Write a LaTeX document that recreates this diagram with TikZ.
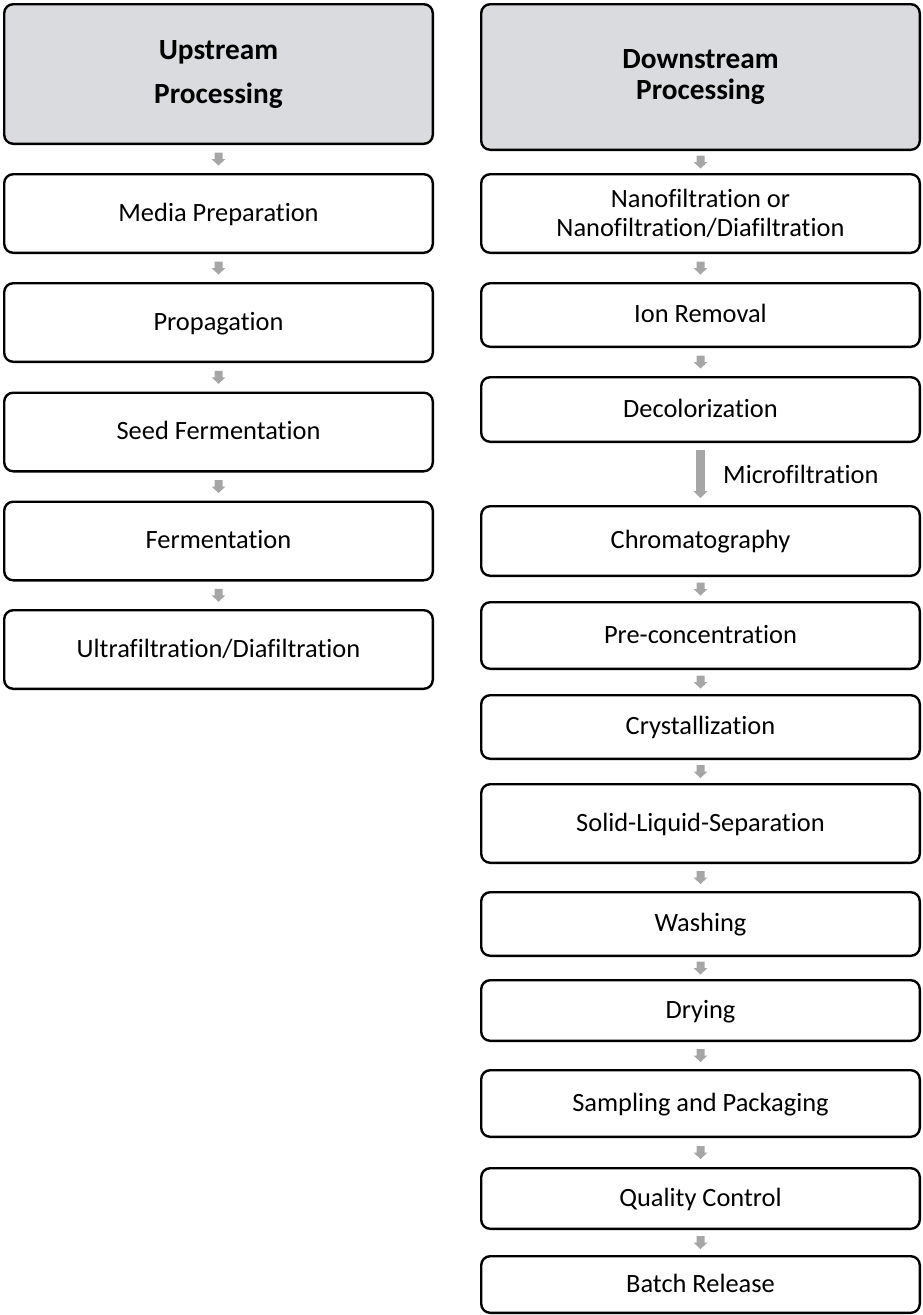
\documentclass[tikz,border=0pt]{standalone}
\usepackage{fontspec}
\setmainfont{Carlito}[Ligatures=NoCommon]
\usetikzlibrary{arrows.meta,decorations.markings}
\definecolor{hdrgray}{RGB}{217,219,222}
\definecolor{arrgray}{RGB}{166,166,166}
\begin{document}
\begin{tikzpicture}[x=1pt,y=-1pt,
  box/.style={draw=black, line width=2.4pt, rounded corners=9pt, fill=white,
    align=center, inner sep=0pt, text=black,
    font=\fontsize{26.4}{28.5}\selectfont},
  one/.style={text height=19.8pt, text depth=4pt},
  lbox/.style={box, minimum width=428.6pt},
  rbox/.style={box, minimum width=438.6pt},
  hdr/.style={fill=hdrgray},
  flow/.style={draw=none, postaction={decorate}, decoration={markings,
    mark=at position 0.5 with {\fill[arrgray] (-6.5pt,4pt) -- (0pt,4pt) -- (0pt,7pt) -- (6.5pt,0pt) -- (0pt,-7pt) -- (0pt,-4pt) -- (-6.5pt,-4pt) -- cycle;}}},
  bigflow/.style={draw=arrgray, line width=9pt, -{Triangle[width=14pt,length=7pt]},
    shorten <=7pt, shorten >=7pt},
  lbl/.style={inner sep=0pt, text=black, font=\fontsize{26.4}{28.5}\selectfont}
]
\useasboundingbox (0,0) rectangle (922,1315);

% Left column
\node[lbox, hdr, minimum height=139.6pt, font=\bfseries\fontsize{29.3}{44}\selectfont] (up) at (218.5,74) {Upstream\\Processing};
\node[lbox, one, minimum height=78.6pt] (media) at (218.5,213.5) {Media Preparation};
\node[lbox, one, minimum height=78.6pt] (prop) at (218.5,322.5) {Propagation};
\node[lbox, one, minimum height=78.6pt] (seed) at (218.5,432) {Seed Fermentation};
\node[lbox, one, minimum height=78.6pt] (ferm) at (218.5,541) {Fermentation};
\node[lbox, one, minimum height=78.6pt] (ultra) at (218.5,649.5) {Ultrafiltration/Diafiltration};

\path[flow] (up) -- (media);
\path[flow] (media) -- (prop);
\path[flow] (prop) -- (seed);
\path[flow] (seed) -- (ferm);
\path[flow] (ferm) -- (ultra);

% Right column
\node[rbox, hdr, minimum height=145.6pt, font=\bfseries\fontsize{29.3}{31.5}\selectfont] (down) at (700.5,77) {Downstream\\Processing};
\node[rbox, minimum height=78.6pt] (nano) at (700.5,213.5) {Nanofiltration or\\Nanofiltration/Diafiltration};
\node[rbox, one, minimum height=63.6pt] (ion) at (700.5,315) {Ion Removal};
\node[rbox, one, minimum height=64.6pt] (decol) at (700.5,409.5) {Decolorization};
\node[rbox, one, minimum height=69.6pt] (chrom) at (700.5,541) {Chromatography};
\node[rbox, one, minimum height=66.6pt] (pre) at (700.5,635.5) {Pre-concentration};
\node[rbox, one, minimum height=63.6pt] (cryst) at (700.5,727) {Crystallization};
\node[rbox, one, minimum height=78.6pt] (solid) at (700.5,823.5) {Solid-Liquid-Separation};
\node[rbox, one, minimum height=63.6pt] (wash) at (700.5,924) {Washing};
\node[rbox, one, minimum height=60.6pt] (dry) at (700.5,1010.5) {Drying};
\node[rbox, one, minimum height=66.6pt] (samp) at (700.5,1103.5) {Sampling and Packaging};
\node[rbox, one, minimum height=60.6pt] (qc) at (700.5,1198.5) {Quality Control};
\node[rbox, one, minimum height=56.6pt] (batch) at (700.5,1284.5) {Batch Release};

\path[flow] (down) -- (nano);
\path[flow] (nano) -- (ion);
\path[flow] (ion) -- (decol);
\draw[bigflow] (decol) -- (chrom);
\node[lbl, anchor=base west] (mf) at (723,483) {Microfiltration};
\path[flow] (chrom) -- (pre);
\path[flow] (pre) -- (cryst);
\path[flow] (cryst) -- (solid);
\path[flow] (solid) -- (wash);
\path[flow] (wash) -- (dry);
\path[flow] (dry) -- (samp);
\path[flow] (samp) -- (qc);
\path[flow] (qc) -- (batch);
\end{tikzpicture}
\end{document}
